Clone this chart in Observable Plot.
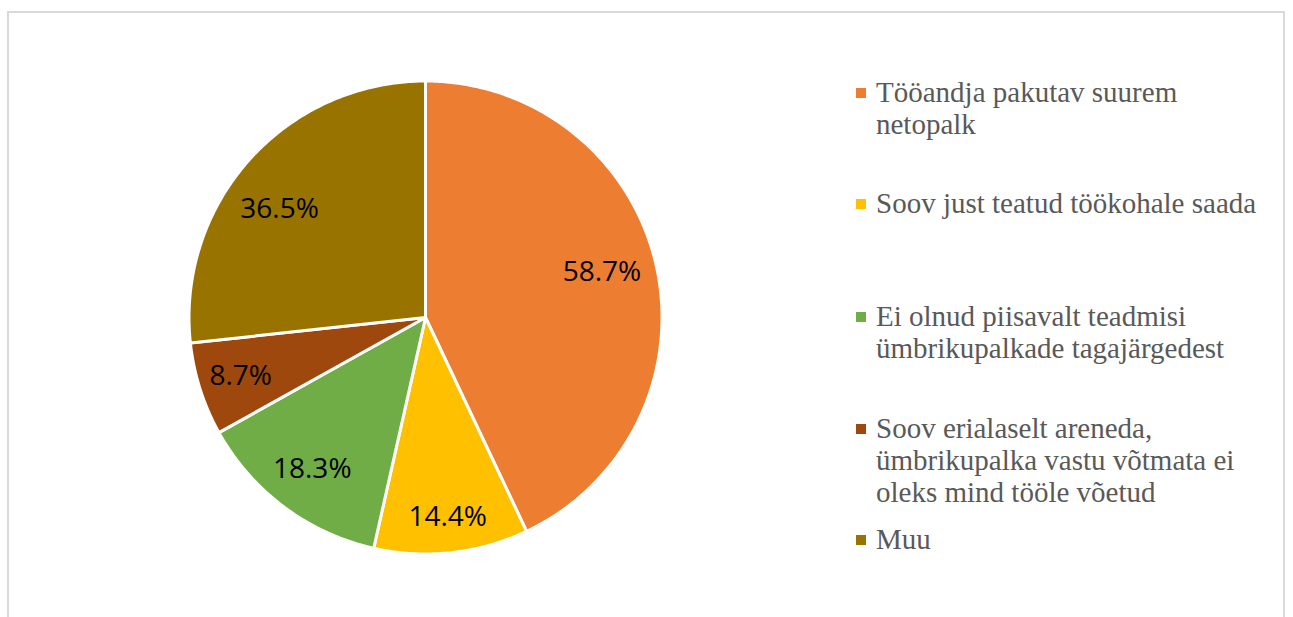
<!DOCTYPE html>
<html>
<head>
<meta charset="utf-8">
<script src="https://cdn.jsdelivr.net/npm/d3@7"></script>
<script src="https://cdn.jsdelivr.net/npm/@observablehq/plot@0.6"></script>
<style>
  html, body { margin: 0; padding: 0; background: #fff; width: 1293px; height: 617px; overflow: hidden; }
  #frame { position: absolute; left: 7px; top: 11px; width: 1278px; height: 640px; border: 2px solid #d9d9d9; box-sizing: border-box; }
  #chart { position: absolute; left: 144.5px; top: 36.5px; }
  .leg { position: absolute; left: 876px; font-family: "Liberation Serif", "Times New Roman", serif; font-size: 29px; line-height: 32px; color: #595959; white-space: nowrap; }
  .sw { position: absolute; left: -20px; width: 10px; height: 10px; top: 12px; }
</style>
</head>
<body>
<div id="frame"></div>
<div id="chart"></div>
<div id="legend"></div>
<script>
const categories = [
  "Tööandja pakutav suurem netopalk",
  "Soov just teatud töökohale saada",
  "Ei olnud piisavalt teadmisi ümbrikupalkade tagajärgedest",
  "Soov erialaselt areneda, ümbrikupalka vastu võtmata ei oleks mind tööle võetud",
  "Muu"
];
const values = [58.7, 14.4, 18.3, 8.7, 36.5];
const colors = ["#ED7D31", "#FFC000", "#70AD47", "#9E480E", "#997300"];
const legendLines = [
  ["Tööandja pakutav suurem", "netopalk"],
  ["Soov just teatud töökohale saada"],
  ["Ei olnud piisavalt teadmisi", "ümbrikupalkade tagajärgedest"],
  ["Soov erialaselt areneda,", "ümbrikupalka vastu võtmata ei", "oleks mind tööle võetud"],
  ["Muu"]
];

// layout: legend item tops (px) and label radius (fraction of pie radius, "best fit")
const legendTop = [76, 187, 300, 412, 523];
const labelRadius = [0.77, 0.85, 0.80, 0.82, 0.77];
const labelAngleShift = [-0.03, 0, 0, 0, -0.09]; // radians

const data = categories.map((c, i) => ({category: c, value: values[i]}));
const arcs = d3.pie().sort(null).value(d => d.value)(data);

// polygon points for each slice (geometry derived from the pie angles)
const pts = [];
arcs.forEach(a => {
  const c = a.data.category;
  pts.push({category: c, x: 0, y: 0});
  const n = Math.max(2, Math.ceil((a.endAngle - a.startAngle) / 0.01));
  for (let k = 0; k <= n; k++) {
    const t = a.startAngle + (a.endAngle - a.startAngle) * k / n;
    pts.push({category: c, x: Math.sin(t), y: Math.cos(t)});
  }
});
const labels = arcs.map((a, i) => {
  const m = (a.startAngle + a.endAngle) / 2 + labelAngleShift[i];
  const r = labelRadius[i];
  return {category: a.data.category, x: r * Math.sin(m), y: r * Math.cos(m), text: a.data.value.toFixed(1) + "%"};
});

const size = 560, margin = (560 - 473) / 2;
const chart = Plot.plot({
  width: size, height: size,
  margin: margin,
  x: {domain: [-1, 1], axis: null},
  y: {domain: [-1, 1], axis: null},
  color: {domain: categories, range: colors},
  style: {background: "transparent", overflow: "visible"},
  marks: [
    Plot.line(pts, {x: "x", y: "y", z: "category", fill: "category", stroke: "white", strokeWidth: 3, strokeLinejoin: "round", curve: "linear-closed"}),
    Plot.text(labels, {x: "x", y: "y", text: "text", fill: "black", fontSize: 28, fontFamily: "Open Sans, Liberation Sans, sans-serif"})
  ]
});
document.getElementById("chart").appendChild(chart);

const leg = document.getElementById("legend");
legendLines.forEach((lines, i) => {
  const div = document.createElement("div");
  div.className = "leg";
  div.style.top = legendTop[i] + "px";
  const sw = document.createElement("span");
  sw.className = "sw";
  sw.style.background = colors[i];
  div.appendChild(sw);
  lines.forEach((l, j) => {
    if (j) div.appendChild(document.createElement("br"));
    div.appendChild(document.createTextNode(l));
  });
  leg.appendChild(div);
});
</script>
</body>
</html>
